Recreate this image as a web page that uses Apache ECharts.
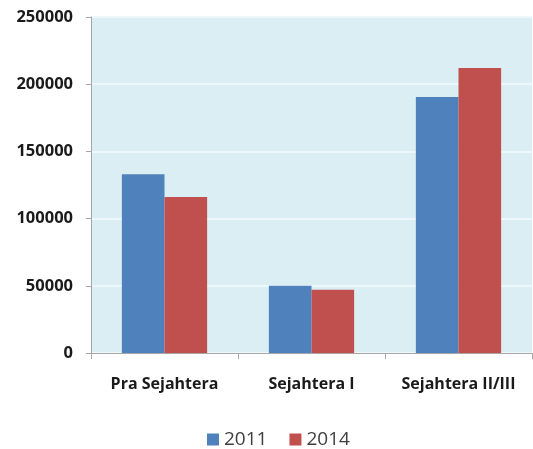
<!DOCTYPE html>
<html>
<head>
<meta charset="utf-8">
<script src="https://cdn.jsdelivr.net/npm/echarts@6/dist/echarts.min.js"></script>
<style>
  html, body { margin: 0; padding: 0; background: #ffffff; }
  #chart { width: 533px; height: 449px; }
</style>
</head>
<body>
<div id="chart"></div>
<script>
// Welfare categories and household counts per year
const categories = ['Pra Sejahtera', 'Sejahtera I', 'Sejahtera II/III'];
const values2011 = [133000, 50000, 190500];
const values2014 = [116000, 47000, 212000];
const seriesNames = ['2011', '2014'];

const font = '"Open Sans", "Liberation Sans", sans-serif';

const chart = echarts.init(document.getElementById('chart'), null, { renderer: 'canvas' });

chart.setOption({
  animation: false,
  backgroundColor: '#ffffff',
  grid: {
    left: 91, right: 1, top: 17, bottom: 96,
    show: true,
    backgroundColor: '#DBEEF4',
    borderWidth: 0
  },
  legend: {
    left: 202, top: 425,
    itemWidth: 12, itemHeight: 12, itemGap: 22,
    icon: 'rect',
    textStyle: { fontFamily: font, fontSize: 19, color: '#404040' },
    data: seriesNames
  },
  xAxis: {
    type: 'category',
    data: categories,
    axisLine: { lineStyle: { color: '#A6A6A6', width: 1 } },
    axisTick: { show: true, length: 6, lineStyle: { color: '#A6A6A6' } },
    axisLabel: {
      interval: 0,
      hideOverlap: false,
      margin: 23,
      fontFamily: font, fontSize: 16, fontWeight: 'bold', color: '#1a1a1a'
    }
  },
  yAxis: {
    type: 'value',
    min: 0, max: 250000, interval: 50000,
    axisLine: { show: true, lineStyle: { color: '#A6A6A6', width: 1 } },
    axisTick: { show: true, length: 5, lineStyle: { color: '#A6A6A6' } },
    splitLine: { show: true, lineStyle: { color: '#EEF8FB', width: 2 } },
    axisLabel: {
      margin: 18,
      formatter: function (v) { return String(v); },
      fontFamily: font, fontSize: 16.5, fontWeight: 'bold', color: '#1a1a1a'
    }
  },
  series: [
    {
      name: seriesNames[0], type: 'bar', data: values2011,
      barGap: '0%', barCategoryGap: '42%',
      itemStyle: { color: '#4F81BD' }
    },
    {
      name: seriesNames[1], type: 'bar', data: values2014,
      barGap: '0%', barCategoryGap: '42%',
      itemStyle: { color: '#C0504D' }
    }
  ]
});
</script>
</body>
</html>
